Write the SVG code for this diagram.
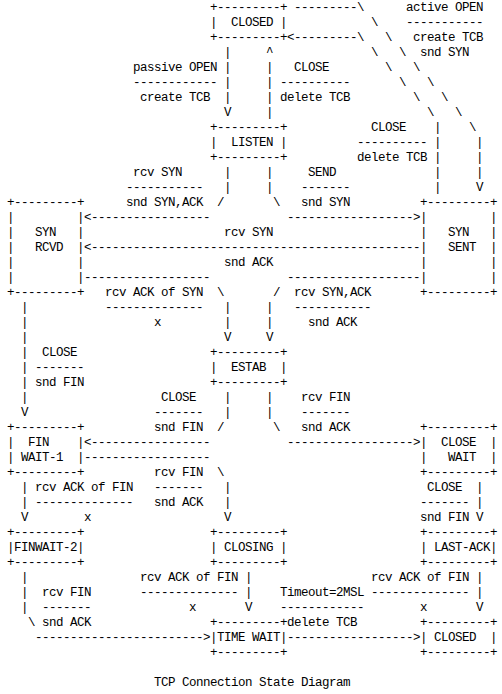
<svg xmlns="http://www.w3.org/2000/svg" width="502" height="694" viewBox="0 0 502 694" xml:space="preserve">
<style>
text{font-family:"Liberation Mono","DejaVu Sans Mono",monospace;font-size:12.5px;letter-spacing:-0.5px;fill:#000;white-space:pre}
</style>
<rect width="502" height="694" fill="#fff"/>
<g id="node-closed-top"><text><tspan x="210" y="11">+---------+</tspan><tspan x="210" y="26">|  CLOSED |</tspan><tspan x="210" y="41">+---------+</tspan></text></g>
<g id="node-listen"><text><tspan x="210" y="131">+---------+</tspan><tspan x="210" y="146">|  LISTEN |</tspan><tspan x="210" y="161">+---------+</tspan></text></g>
<g id="node-syn-rcvd"><text><tspan x="7" y="206">+---------+</tspan><tspan x="7" y="221">|         |</tspan><tspan x="7" y="236">|   SYN   |</tspan><tspan x="7" y="251">|   RCVD  |</tspan><tspan x="7" y="266">|         |</tspan><tspan x="7" y="281">|         |</tspan><tspan x="7" y="296">+---------+</tspan></text></g>
<g id="node-syn-sent"><text><tspan x="420" y="206">+---------+</tspan><tspan x="420" y="221">|         |</tspan><tspan x="420" y="236">|   SYN   |</tspan><tspan x="420" y="251">|   SENT  |</tspan><tspan x="420" y="266">|         |</tspan><tspan x="420" y="281">|         |</tspan><tspan x="420" y="296">+---------+</tspan></text></g>
<g id="node-estab"><text><tspan x="210" y="356">+---------+</tspan><tspan x="210" y="371">|  ESTAB  |</tspan><tspan x="210" y="386">+---------+</tspan></text></g>
<g id="node-fin-wait-1"><text><tspan x="7" y="431">+---------+</tspan><tspan x="7" y="446">|  FIN    |</tspan><tspan x="7" y="461">| WAIT-1  |</tspan><tspan x="7" y="476">+---------+</tspan></text></g>
<g id="node-close-wait"><text><tspan x="420" y="431">+---------+</tspan><tspan x="420" y="446">|  CLOSE  |</tspan><tspan x="420" y="461">|   WAIT  |</tspan><tspan x="420" y="476">+---------+</tspan></text></g>
<g id="node-finwait-2"><text><tspan x="7" y="536">+---------+</tspan><tspan x="7" y="551">|FINWAIT-2|</tspan><tspan x="7" y="566">+---------+</tspan></text></g>
<g id="node-closing"><text><tspan x="210" y="536">+---------+</tspan><tspan x="210" y="551">| CLOSING |</tspan><tspan x="210" y="566">+---------+</tspan></text></g>
<g id="node-last-ack"><text><tspan x="420" y="536">+---------+</tspan><tspan x="420" y="551">| LAST-ACK|</tspan><tspan x="420" y="566">+---------+</tspan></text></g>
<g id="node-time-wait"><text><tspan x="210" y="626">+---------+</tspan><tspan x="210" y="641">|TIME WAIT|</tspan><tspan x="210" y="656">+---------+</tspan></text></g>
<g id="node-closed-bottom"><text><tspan x="420" y="626">+---------+</tspan><tspan x="420" y="641">| CLOSED  |</tspan><tspan x="420" y="656">+---------+</tspan></text></g>
<g id="connectors"><text>
<tspan x="294" y="11">---------\</tspan>
<tspan x="371" y="26">\</tspan>
<tspan x="287" y="41">&lt;---------\</tspan><tspan x="385" y="41">\</tspan>
<tspan x="224" y="56">|</tspan><tspan x="266" y="56">^</tspan><tspan x="371" y="56">\</tspan><tspan x="399" y="56">\</tspan>
<tspan x="224" y="71">|</tspan><tspan x="266" y="71">|</tspan><tspan x="385" y="71">\</tspan><tspan x="413" y="71">\</tspan>
<tspan x="224" y="86">|</tspan><tspan x="266" y="86">|</tspan><tspan x="399" y="86">\</tspan><tspan x="427" y="86">\</tspan>
<tspan x="224" y="101">|</tspan><tspan x="266" y="101">|</tspan><tspan x="413" y="101">\</tspan><tspan x="441" y="101">\</tspan>
<tspan x="224" y="116">V</tspan><tspan x="266" y="116">|</tspan><tspan x="427" y="116">\</tspan><tspan x="455" y="116">\</tspan>
<tspan x="434" y="131">|</tspan><tspan x="469" y="131">\</tspan>
<tspan x="434" y="146">|</tspan><tspan x="476" y="146">|</tspan>
<tspan x="434" y="161">|</tspan><tspan x="476" y="161">|</tspan>
<tspan x="224" y="176">|</tspan><tspan x="266" y="176">|</tspan><tspan x="434" y="176">|</tspan><tspan x="476" y="176">|</tspan>
<tspan x="224" y="191">|</tspan><tspan x="266" y="191">|</tspan><tspan x="434" y="191">|</tspan><tspan x="476" y="191">V</tspan>
<tspan x="217" y="206">/</tspan><tspan x="273" y="206">\</tspan>
<tspan x="84" y="221">&lt;-----------------</tspan><tspan x="287" y="221">------------------&gt;</tspan>
<tspan x="84" y="251">&lt;-----------------------------------------------</tspan>
<tspan x="84" y="281">------------------</tspan><tspan x="287" y="281">-------------------</tspan>
<tspan x="217" y="296">\</tspan><tspan x="273" y="296">/</tspan>
<tspan x="21" y="311">|</tspan><tspan x="224" y="311">|</tspan><tspan x="266" y="311">|</tspan>
<tspan x="21" y="326">|</tspan><tspan x="224" y="326">|</tspan><tspan x="266" y="326">|</tspan>
<tspan x="21" y="341">|</tspan><tspan x="224" y="341">V</tspan><tspan x="266" y="341">V</tspan>
<tspan x="21" y="356">|</tspan>
<tspan x="21" y="371">|</tspan>
<tspan x="21" y="386">|</tspan>
<tspan x="21" y="401">|</tspan><tspan x="224" y="401">|</tspan><tspan x="266" y="401">|</tspan>
<tspan x="21" y="416">V</tspan><tspan x="224" y="416">|</tspan><tspan x="266" y="416">|</tspan>
<tspan x="217" y="431">/</tspan><tspan x="273" y="431">\</tspan>
<tspan x="84" y="446">&lt;-----------------</tspan><tspan x="287" y="446">------------------&gt;</tspan>
<tspan x="84" y="461">------------------</tspan>
<tspan x="217" y="476">\</tspan>
<tspan x="21" y="491">|</tspan><tspan x="224" y="491">|</tspan><tspan x="476" y="491">|</tspan>
<tspan x="21" y="506">|</tspan><tspan x="224" y="506">|</tspan><tspan x="476" y="506">|</tspan>
<tspan x="21" y="521">V</tspan><tspan x="224" y="521">V</tspan><tspan x="476" y="521">V</tspan>
<tspan x="21" y="581">|</tspan><tspan x="245" y="581">|</tspan><tspan x="476" y="581">|</tspan>
<tspan x="21" y="596">|</tspan><tspan x="245" y="596">|</tspan><tspan x="476" y="596">|</tspan>
<tspan x="21" y="611">|</tspan><tspan x="245" y="611">V</tspan><tspan x="476" y="611">V</tspan>
<tspan x="28" y="626">\</tspan>
<tspan x="35" y="641">------------------------&gt;</tspan><tspan x="287" y="641">------------------&gt;</tspan>
</text></g>
<g id="labels"><text>
<tspan x="406" y="11">active OPEN</tspan>
<tspan x="406" y="26">-----------</tspan>
<tspan x="413" y="41">create TCB</tspan>
<tspan x="420" y="56">snd SYN</tspan>
<tspan x="133" y="71">passive OPEN</tspan><tspan x="294" y="71">CLOSE</tspan>
<tspan x="133" y="86">------------</tspan><tspan x="280" y="86">----------</tspan>
<tspan x="140" y="101">create TCB</tspan><tspan x="280" y="101">delete TCB</tspan>
<tspan x="371" y="131">CLOSE</tspan>
<tspan x="357" y="146">----------</tspan>
<tspan x="357" y="161">delete TCB</tspan>
<tspan x="133" y="176">rcv SYN</tspan><tspan x="308" y="176">SEND</tspan>
<tspan x="126" y="191">-----------</tspan><tspan x="301" y="191">-------</tspan>
<tspan x="126" y="206">snd SYN,ACK</tspan><tspan x="301" y="206">snd SYN</tspan>
<tspan x="224" y="236">rcv SYN</tspan>
<tspan x="224" y="266">snd ACK</tspan>
<tspan x="105" y="296">rcv ACK of SYN</tspan><tspan x="294" y="296">rcv SYN,ACK</tspan>
<tspan x="105" y="311">--------------</tspan><tspan x="294" y="311">-----------</tspan>
<tspan x="154" y="326">x</tspan><tspan x="308" y="326">snd ACK</tspan>
<tspan x="42" y="356">CLOSE</tspan>
<tspan x="35" y="371">-------</tspan>
<tspan x="35" y="386">snd FIN</tspan>
<tspan x="161" y="401">CLOSE</tspan><tspan x="301" y="401">rcv FIN</tspan>
<tspan x="154" y="416">-------</tspan><tspan x="301" y="416">-------</tspan>
<tspan x="154" y="431">snd FIN</tspan><tspan x="301" y="431">snd ACK</tspan>
<tspan x="154" y="476">rcv FIN</tspan>
<tspan x="35" y="491">rcv ACK of FIN</tspan><tspan x="154" y="491">-------</tspan><tspan x="427" y="491">CLOSE</tspan>
<tspan x="35" y="506">--------------</tspan><tspan x="154" y="506">snd ACK</tspan><tspan x="420" y="506">-------</tspan>
<tspan x="84" y="521">x</tspan><tspan x="420" y="521">snd FIN</tspan>
<tspan x="140" y="581">rcv ACK of FIN</tspan><tspan x="371" y="581">rcv ACK of FIN</tspan>
<tspan x="42" y="596">rcv FIN</tspan><tspan x="140" y="596">--------------</tspan><tspan x="280" y="596">Timeout=2MSL</tspan><tspan x="371" y="596">--------------</tspan>
<tspan x="42" y="611">-------</tspan><tspan x="189" y="611">x</tspan><tspan x="280" y="611">------------</tspan><tspan x="420" y="611">x</tspan>
<tspan x="42" y="626">snd ACK</tspan><tspan x="287" y="626">delete TCB</tspan>
</text></g>
<g id="caption"><text x="154" y="686">TCP Connection State Diagram</text></g>
</svg>
